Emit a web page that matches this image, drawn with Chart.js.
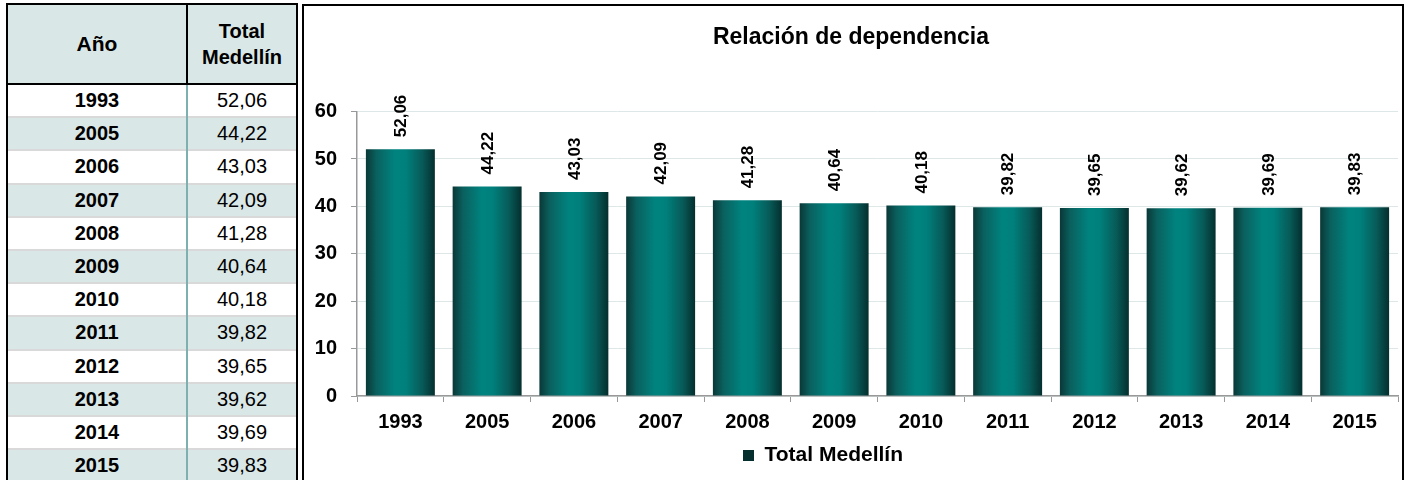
<!DOCTYPE html>
<html>
<head>
<meta charset="utf-8">
<script src="https://cdn.jsdelivr.net/npm/chart.js@4"></script>
<style>
  html, body { margin: 0; padding: 0; background: #fff; width: 1408px; height: 480px; overflow: hidden; }
  body { position: relative; font-family: 'Liberation Sans', Arial, sans-serif; }
  #tbl { position: absolute; left: 6px; top: 3px; width: 292px; border-collapse: collapse; table-layout: fixed; }
  #tbl td, #tbl th { padding: 0; text-align: center; color: #000; }
  #tbl th { background: #d9e7e7; height: 78px; font-weight: bold; border: 2px solid #000; }
  #tbl th.y { font-size: 21px; width: 178px; }
  #tbl th.v { font-size: 20px; line-height: 26px; }
  #tbl td { height: 31.2px; border-top: 2px solid #d9d9d9; font-size: 20px; }
  #tbl td.y { font-weight: bold; border-left: 2px solid #000; border-right: 2px solid #7fb0b1; }
  #tbl td.v { border-right: 2px solid #000; }
  #tbl tr.alt td { background: #d9e7e7; }
  #tbl tr.first td { border-top: none; }
  #box { position: absolute; left: 302px; top: 4px; width: 1098px; height: 480px; border: 2px solid #000; }
</style>
</head>
<body>
<table id="tbl">
  <thead><tr><th class="y">Año</th><th class="v">Total<br>Medellín</th></tr></thead>
  <tbody id="rows"></tbody>
</table>
<div id="box"><canvas id="chart" width="1098" height="476"></canvas></div>
<script>
// data
const years = ['1993', '2005', '2006', '2007', '2008', '2009', '2010', '2011', '2012', '2013', '2014', '2015'];
const values = [52.06, 44.22, 43.03, 42.09, 41.28, 40.64, 40.18, 39.82, 39.65, 39.62, 39.69, 39.83];
const seriesName = 'Total Medellín';
const chartTitle = 'Relación de dependencia';

Chart.defaults.font.family = "'Liberation Sans', Arial, sans-serif";
Chart.defaults.color = '#000';

const BAR_FRACTION = 0.795;

function fmt(v) {
  return v.toFixed(2).replace('.', ',');
}

// left table
const tbody = document.getElementById('rows');
years.forEach(function(y, i) {
  const tr = document.createElement('tr');
  if (i % 2 == 1) tr.className = 'alt';
  if (i == 0) tr.className = 'first';
  tr.innerHTML = '<td class="y">' + y + '</td><td class="v">' + fmt(values[i]) + '</td>';
  tbody.appendChild(tr);
});

function barGradient(context) {
  const chart = context.chart;
  const xScale = chart.scales.x;
  if (!xScale || context.dataIndex === undefined) return '#087a77';
  const cx = xScale.getPixelForValue(context.dataIndex);
  const half = xScale.width / chart.data.labels.length * BAR_FRACTION / 2;
  if (!isFinite(cx) || !isFinite(half) || half <= 0) return '#087a77';
  const g = chart.ctx.createLinearGradient(cx - half, 0, cx + half, 0);
  g.addColorStop(0, '#0a3837');
  g.addColorStop(0.15, '#0a605e');
  g.addColorStop(0.42, '#00837f');
  g.addColorStop(0.58, '#00807c');
  g.addColorStop(0.82, '#075a58');
  g.addColorStop(1, '#042f2e');
  return g;
}

// rotated value labels above each bar
const barValueLabels = {
  id: 'barValueLabels',
  afterLayout(chart) {
    // legend sits a bit left of centre in the original
    chart.legend.left -= 28;
    chart.legend.right -= 28;
  },
  afterDatasetsDraw(chart) {
    const {ctx} = chart;
    const meta = chart.getDatasetMeta(0);
    ctx.save();
    ctx.font = "bold 17px 'Liberation Sans', Arial, sans-serif";
    ctx.fillStyle = '#000';
    ctx.textAlign = 'left';
    ctx.textBaseline = 'middle';
    meta.data.forEach(function(bar, i) {
      ctx.save();
      ctx.translate(bar.x + 1, bar.y - 12);
      ctx.rotate(-Math.PI / 2);
      ctx.fillText(fmt(values[i]), 0, 0);
      ctx.restore();
    });
    ctx.restore();
  }
};

new Chart(document.getElementById('chart'), {
  type: 'bar',
  data: {
    labels: years,
    datasets: [{
      label: seriesName,
      data: values,
      backgroundColor: barGradient,
      borderWidth: 0,
      categoryPercentage: BAR_FRACTION,
      barPercentage: 1
    }]
  },
  options: {
    responsive: false,
    animation: false,
    layout: { padding: { left: 0, right: 4, top: 0, bottom: 6 } },
    plugins: {
      title: {
        display: true,
        text: chartTitle,
        font: { size: 23, weight: 'bold' },
        padding: { top: 18, bottom: 60 }
      },
      legend: {
        position: 'bottom',
        labels: {
          boxWidth: 11,
          boxHeight: 11,
          padding: 10,
          font: { size: 21, weight: 'bold' }
        }
      },
      tooltip: { enabled: false }
    },
    scales: {
      x: {
        grid: { drawOnChartArea: false, tickLength: 6, tickColor: '#999', color: '#999' },
        border: { color: '#999', width: 1.5 },
        ticks: { padding: 8, font: { size: 20, weight: 'bold' } },
        afterFit: function(scale) { scale.height = 39; }
      },
      y: {
        min: 0,
        max: 60,
        grid: { color: '#dde7e8', tickLength: 6, tickColor: '#999' },
        border: { color: '#999', width: 1.5 },
        ticks: { stepSize: 10, padding: 14, font: { size: 20, weight: 'bold' } },
        afterFit: function(scale) { scale.width = 53; }
      }
    }
  },
  plugins: [barValueLabels]
});
</script>
</body>
</html>
